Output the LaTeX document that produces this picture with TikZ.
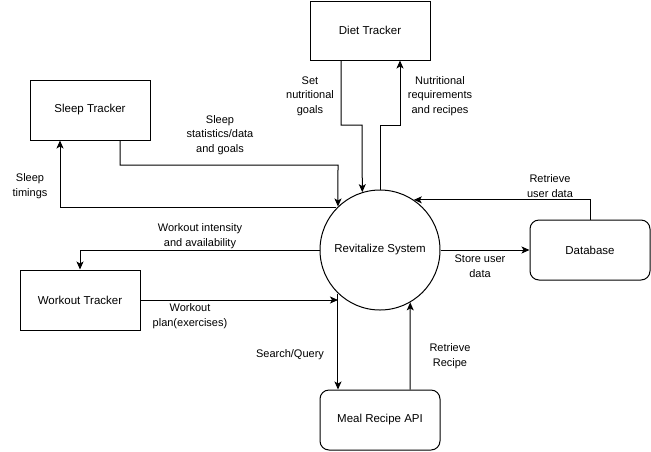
\documentclass[tikz,border=0pt]{standalone}
\usepackage{fontspec}
\setmainfont{Liberation Sans}
\usetikzlibrary{arrows.meta}
\begin{document}
\begin{tikzpicture}[x=1pt,y=-1pt,
  box/.style={draw,line width=1pt,minimum width=120pt,minimum height=60pt,inner sep=0pt,font=\fontsize{11.5}{14}\selectfont},
  rbox/.style={box,rounded corners=9pt},
  proc/.style={draw,circle,line width=1pt,minimum size=120pt,inner sep=0pt,font=\fontsize{11.5}{14}\selectfont},
  lbl/.style={align=center,font=\fontsize{11}{14.5}\selectfont,inner sep=0pt},
  arr/.style={line width=1pt,-{Stealth[length=8pt,width=7pt,inset=2pt]}}]
\useasboundingbox (0,0) rectangle (651,451);
\node[box] (sleep) at (90,110) {Sleep Tracker};
\node[box,minimum height=59pt] (diet) at (370,30.5) {Diet Tracker};
\node[box] (wo) at (80,300) {Workout Tracker};
\node[proc] (rev) at (380,250) {Revitalize System};
\node[rbox] (db) at (590,250) {Database};
\node[rbox] (meal) at (380,420) {Meal Recipe API};
\coordinate (wend) at (338,300);
% sleep
\draw[arr] ([xshift=30pt]sleep.south) |- (338,165) -- (rev.134);
\draw[arr] (rev.136) -| ([xshift=-30pt]sleep.south);
\node[lbl] (l1) at (220,135) {Sleep\\statistics/data\\and goals};
\node[lbl] (l2) at (30,186) {Sleep\\timings};
% diet
\draw[arr] ([xshift=-29pt]diet.south) |- (362,125) -- (rev.107.5);
\draw[arr] (rev.north) -- (380,125) -| ([xshift=30pt]diet.south);
\node[lbl] (l3) at (310,96) {Set\\nutritional\\goals};
\node[lbl] (l4) at (440,96) {Nutritional\\requirements\\and recipes};
% database
\draw[arr] (db.north) |- (rev.56);
\draw[arr] (rev.east) -- (db.west);
\node[lbl] (l5) at (550,186) {Retrieve\\user data};
\node[lbl] (l6) at (480,266) {Store user\\data};
% workout
\draw[arr] (rev.west) -| (wo.north);
\draw[arr] (wo.east) -- (wend);
\node[lbl] (l7) at (200,236) {Workout intensity\\and availability};
\node[lbl] (l8) at (190,316) {Workout\\plan(exercises)};
% meal
\draw[arr] (rev.226) -- (rev.226 |- meal.north);
\draw[arr] ([xshift=30pt]meal.north) -- (rev.-60);
\node[lbl] (l9) at (290,355) {Search/Query};
\node[lbl] (l10) at (450,356) {Retrieve\\Recipe};
\end{tikzpicture}
\end{document}
